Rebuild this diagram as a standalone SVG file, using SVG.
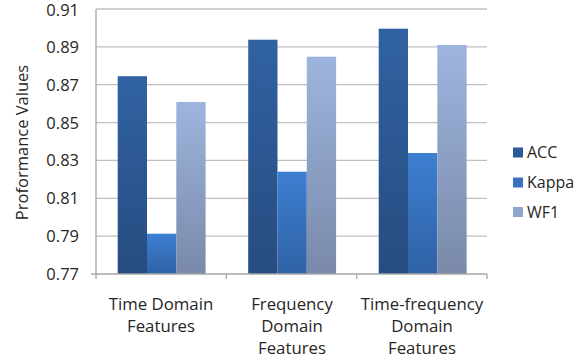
<svg xmlns="http://www.w3.org/2000/svg" width="584" height="364" viewBox="0 0 584 364">
<defs>
<linearGradient id="gAcc" x1="0" y1="0" x2="0" y2="1"><stop offset="0" stop-color="#3062a3"/><stop offset="1" stop-color="#274c80"/></linearGradient>
<linearGradient id="gKap" x1="0" y1="0" x2="0" y2="1"><stop offset="0" stop-color="#3d7fd1"/><stop offset="1" stop-color="#2f62a6"/></linearGradient>
<linearGradient id="gWf" x1="0" y1="0" x2="0" y2="1"><stop offset="0" stop-color="#9db5de"/><stop offset="1" stop-color="#7a89a9"/></linearGradient>
<style>
.grid{stroke:#c0c0c0;stroke-width:1.3}
.ax{stroke:#a6a6a6;stroke-width:1.3}
text{font-family:"Open Sans","Liberation Sans",sans-serif;fill:#262626}
.tick{font-size:16.5px;text-anchor:end}
.cat{font-size:16.8px;text-anchor:middle}
.leg{font-size:16px}
</style>
</defs>
<rect width="584" height="364" fill="#ffffff"/>
<g id="gridlines">
<line class="grid" x1="96" y1="9" x2="487" y2="9"/>
<line class="grid" x1="96" y1="46.9" x2="487" y2="46.9"/>
<line class="grid" x1="96" y1="84.7" x2="487" y2="84.7"/>
<line class="grid" x1="96" y1="122.6" x2="487" y2="122.6"/>
<line class="grid" x1="96" y1="160.4" x2="487" y2="160.4"/>
<line class="grid" x1="96" y1="198.3" x2="487" y2="198.3"/>
<line class="grid" x1="96" y1="236.1" x2="487" y2="236.1"/>
</g>
<g id="yaxis-labels">
<text class="tick" x="79" y="16">0.91</text>
<text class="tick" x="79" y="52.8">0.89</text>
<text class="tick" x="79" y="90.6">0.87</text>
<text class="tick" x="79" y="128.5">0.85</text>
<text class="tick" x="79" y="166.3">0.83</text>
<text class="tick" x="79" y="204.2">0.81</text>
<text class="tick" x="79" y="242">0.79</text>
<text class="tick" x="79" y="280">0.77</text>
<text font-size="16.5" text-anchor="middle" transform="translate(28,142.5) rotate(-90)">Proformance Values</text>
</g>
<g id="group-time">
<rect x="117.7" y="76.2" width="29.3" height="197.8" fill="url(#gAcc)"/>
<rect x="147" y="233.7" width="29.3" height="40.3" fill="url(#gKap)"/>
<rect x="176.3" y="102" width="29.3" height="172" fill="url(#gWf)"/>
</g>
<g id="group-frequency">
<rect x="248.2" y="39.7" width="29.3" height="234.3" fill="url(#gAcc)"/>
<rect x="277.5" y="171.7" width="29.3" height="102.3" fill="url(#gKap)"/>
<rect x="306.8" y="56.7" width="29.3" height="217.3" fill="url(#gWf)"/>
</g>
<g id="group-timefrequency">
<rect x="378.7" y="28.7" width="29.3" height="245.3" fill="url(#gAcc)"/>
<rect x="408" y="153" width="29.3" height="121" fill="url(#gKap)"/>
<rect x="437.3" y="45" width="29.3" height="229" fill="url(#gWf)"/>
</g>
<g id="axes">
<line class="ax" x1="96" y1="9" x2="96" y2="274"/>
<line class="ax" x1="91" y1="274" x2="487" y2="274"/>
<line class="ax" x1="96" y1="274" x2="96" y2="279"/>
<line class="ax" x1="226.3" y1="274" x2="226.3" y2="279"/>
<line class="ax" x1="356.7" y1="274" x2="356.7" y2="279"/>
<line class="ax" x1="487" y1="274" x2="487" y2="279"/>
</g>
<g id="category-labels">
<text class="cat" x="161" y="310">Time Domain</text>
<text class="cat" x="161" y="332">Features</text>
<text class="cat" x="292" y="310">Frequency</text>
<text class="cat" x="292" y="332">Domain</text>
<text class="cat" x="292" y="354">Features</text>
<text class="cat" x="422" y="310">Time-frequency</text>
<text class="cat" x="422" y="332">Domain</text>
<text class="cat" x="422" y="354">Features</text>
</g>
<g id="legend">
<rect x="513" y="147.5" width="10" height="10" fill="#2b5a97"/>
<text class="leg" x="527" y="158">ACC</text>
<rect x="513" y="177.5" width="10" height="10" fill="#3872c0"/>
<text class="leg" x="527" y="188">Kappa</text>
<rect x="513" y="207" width="10" height="10" fill="#8fa5cc"/>
<text class="leg" x="527" y="217.5">WF1</text>
</g>
</svg>
